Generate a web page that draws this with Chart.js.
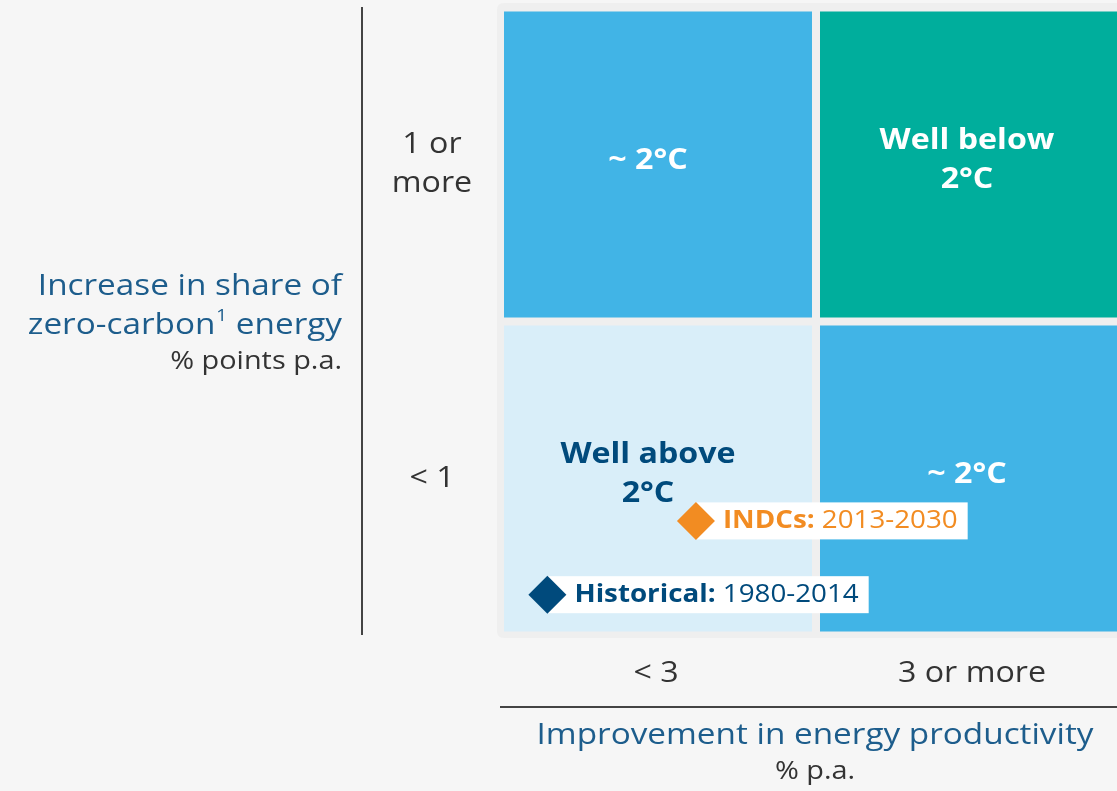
<!DOCTYPE html>
<html>
<head>
<meta charset="utf-8">
<script src="https://cdn.jsdelivr.net/npm/chart.js@4.4.1/dist/chart.umd.min.js"></script>
<style>
  html, body { margin: 0; padding: 0; background: #f6f6f6; }
  #wrap { width: 1117px; height: 791px; position: relative; }
</style>
</head>
<body>
<div id="wrap"><canvas id="c" width="1117" height="791"></canvas></div>
<script>
// ---- Data ----
const xCategories = [['< 3'], ['3 or more']];               // columns, left to right
const yCategories = [['< 1'], ['1 or', 'more']];            // rows, bottom to top
const xTitle = ['Improvement in energy productivity', '% p.a.'];
const yTitle = ['Increase in share of', 'zero-carbon', '1', ' energy', '% points p.a.'];

const cellCols   = [0, 1, 0, 1];
const cellRows   = [1, 1, 0, 0];
const cellLevels = ['mid', 'best', 'worst', 'mid'];
const cellLabels = [['~ 2°C'], ['Well below', '2°C'], ['Well above', '2°C'], ['~ 2°C']];

const markerNames   = ['INDCs:', 'Historical:'];
const markerPeriods = ['2013-2030', '1980-2014'];
const markerX       = [0.62, 0.15];
const markerY       = [0.365, 0.13];

// ---- Styles ----
const FONT = '"Open Sans", Lato, sans-serif';
const SX = 1.11; // horizontal widening to mimic a wide geometric face
const levelFill = { mid: '#41b4e6', best: '#00ae9c', worst: '#d9eef9' };
const levelText = { mid: '#ffffff', best: '#ffffff', worst: '#004a7c' };
const markerColors = ['#f28c22', '#004a7c'];

function txt(ctx, s, x, y) {
  ctx.save();
  ctx.translate(x, y);
  ctx.scale(SX, 1);
  ctx.fillText(s, 0, 0);
  ctx.restore();
}
function tw(ctx, s) { return ctx.measureText(s).width * SX; }

const gridPlugin = {
  id: 'grid',
  beforeDatasetsDraw(chart) {
    const { ctx, scales: { x, y } } = chart;
    ctx.save();
    // panel
    const pl = x.getPixelForValue(0) - 3, pt = y.getPixelForValue(2) - 4.5;
    const pb = y.getPixelForValue(0) + 2.5, pr = chart.width + 10, r = 7;
    ctx.fillStyle = '#efefef';
    ctx.beginPath();
    ctx.moveTo(pl + r, pt); ctx.lineTo(pr, pt); ctx.lineTo(pr, pb);
    ctx.lineTo(pl + r, pb); ctx.quadraticCurveTo(pl, pb, pl, pb - r);
    ctx.lineTo(pl, pt + r); ctx.quadraticCurveTo(pl, pt, pl + r, pt);
    ctx.fill();
    // cells
    const inset = 4;
    cellCols.forEach((c, i) => {
      const row = cellRows[i];
      const l = x.getPixelForValue(c) + inset, rr = x.getPixelForValue(c + 1) - inset;
      const t = y.getPixelForValue(row + 1) + inset, b = y.getPixelForValue(row) - inset;
      ctx.fillStyle = levelFill[cellLevels[i]];
      ctx.fillRect(l, t, rr - l, b - t);
    });
    // cell labels
    ctx.font = 'bold 29px ' + FONT;
    ctx.textAlign = 'center';
    ctx.textBaseline = 'middle';
    cellCols.forEach((c, i) => {
      const row = cellRows[i];
      const cx = x.getPixelForValue(c + 0.5) - 7 + (c === 0 ? -3 : 0);
      const cy = y.getPixelForValue(row + 0.5) - 4;
      const lines = cellLabels[i];
      ctx.fillStyle = levelText[cellLevels[i]];
      lines.forEach((ln, k) => {
        txt(ctx, ln, cx, cy + (k - (lines.length - 1) / 2) * 39);
      });
    });
    // marker label boxes
    markerX.forEach((mx, i) => {
      const px = x.getPixelForValue(mx), py = y.getPixelForValue(markerY[i]);
      ctx.font = 'bold 25px ' + FONT;
      const w1 = tw(ctx, markerNames[i] + ' ');
      ctx.font = '25px ' + FONT;
      const w2 = tw(ctx, markerPeriods[i]);
      ctx.fillStyle = '#ffffff';
      ctx.fillRect(px, py - 18.5, 27 + w1 + w2 + 10, 37);
    });
    ctx.restore();
  },
  afterDatasetsDraw(chart) {
    const { ctx, scales: { x, y } } = chart;
    ctx.save();
    ctx.textBaseline = 'middle';
    // marker labels
    markerX.forEach((mx, i) => {
      const px = x.getPixelForValue(mx), py = y.getPixelForValue(markerY[i]);
      ctx.fillStyle = markerColors[i];
      ctx.textAlign = 'left';
      ctx.font = 'bold 25px ' + FONT;
      txt(ctx, markerNames[i], px + 27, py);
      const w1 = tw(ctx, markerNames[i] + ' ');
      ctx.font = '25px ' + FONT;
      txt(ctx, markerPeriods[i], px + 27 + w1, py);
    });
    // y category labels
    ctx.fillStyle = '#333333';
    ctx.textAlign = 'center';
    ctx.font = '29px ' + FONT;
    const yLabX = 432;
    yCategories.forEach((lines, r) => {
      const cy = y.getPixelForValue(r + 0.5);
      lines.forEach((ln, k) => txt(ctx, ln, yLabX, cy + (k - (lines.length - 1) / 2) * 39));
    });
    // x category labels
    xCategories.forEach((lines, c) => {
      const cx = x.getPixelForValue(c + 0.5) - 2;
      lines.forEach((ln, k) => txt(ctx, ln, cx, 674 + k * 39));
    });
    // axis lines
    ctx.strokeStyle = '#444444';
    ctx.lineWidth = 2;
    ctx.beginPath();
    ctx.moveTo(362, 7); ctx.lineTo(362, 635);
    ctx.moveTo(500, 707); ctx.lineTo(1117, 707);
    ctx.stroke();
    // x title
    const xc = x.getPixelForValue(1) - 1;
    ctx.fillStyle = '#1d5d8c';
    ctx.font = '30px ' + FONT;
    txt(ctx, xTitle[0], xc, 735);
    ctx.fillStyle = '#333333';
    ctx.font = '26px ' + FONT;
    txt(ctx, xTitle[1], xc, 772);
    // y title (right aligned)
    const rx = 342;
    ctx.textAlign = 'right';
    ctx.fillStyle = '#1d5d8c';
    ctx.font = '30px ' + FONT;
    txt(ctx, yTitle[0], rx, 286);
    const wE = tw(ctx, yTitle[3]);
    txt(ctx, yTitle[3], rx, 325);
    ctx.font = '17px ' + FONT;
    const wS = tw(ctx, yTitle[2]);
    txt(ctx, yTitle[2], rx - wE, 316);
    ctx.font = '30px ' + FONT;
    txt(ctx, yTitle[1], rx - wE - wS - 1, 325);
    ctx.fillStyle = '#333333';
    ctx.font = '26px ' + FONT;
    txt(ctx, yTitle[4], rx, 362);
    ctx.restore();
  }
};

new Chart(document.getElementById('c'), {
  type: 'scatter',
  data: {
    datasets: [{
      data: markerX.map((v, i) => ({ x: v, y: markerY[i] })),
      pointStyle: 'rectRot',
      pointRadius: 19,
      pointHoverRadius: 19,
      backgroundColor: markerColors,
      borderWidth: 0,
      clip: false
    }]
  },
  options: {
    responsive: false,
    animation: false,
    events: [],
    layout: { autoPadding: false, padding: { left: 500, right: 0, top: 7.5, bottom: 155.5 } },
    scales: {
      x: { type: 'linear', min: 0, max: 617 / 316, display: false },
      y: { type: 'linear', min: 0, max: 2, display: false }
    },
    plugins: { legend: { display: false }, tooltip: { enabled: false } }
  },
  plugins: [gridPlugin]
});
</script>
</body>
</html>
